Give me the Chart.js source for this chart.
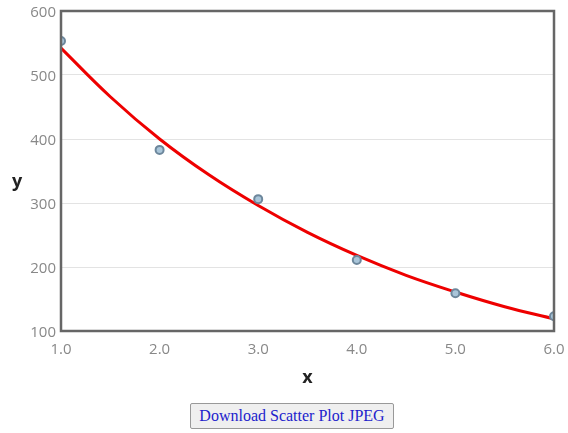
<!DOCTYPE html>
<html>
<head>
<meta charset="utf-8">
<script src="https://cdn.jsdelivr.net/npm/chart.js@4/dist/chart.umd.min.js"></script>
<style>
  html, body { margin: 0; padding: 0; background: #fff; }
  #wrap { position: relative; width: 568px; height: 395px; }
  #btnrow { text-align: center; margin-top: 8px; padding-left: 16px; }
  button { font-family: "Liberation Serif", "Times New Roman", serif; font-size: 16px; color: #2222cc;
    background: #efefef; border: 1px solid #999; border-radius: 2px; padding: 3px 8px; }
</style>
</head>
<body>
<div id="wrap"><canvas id="c"></canvas></div>
<div id="btnrow"><button>Download Scatter Plot JPEG</button></div>
<script>
// Observed data points
const xValues = [1, 2, 3, 4, 5, 6];
const yValues = [553, 383, 306, 211, 159, 123];
// Fitted curve
const fitX = [1, 1.5, 2, 2.5, 3, 3.5, 4, 4.5, 5, 5.5, 6];
const fitY = [542, 466, 400, 344, 296, 254, 218, 187, 161, 138, 119];
// Axis ticks
const yTicks = [100, 200, 300, 400, 500, 600];
const xTicks = [1, 2, 3, 4, 5, 6];
const xTitle = 'x';
const yTitle = 'y';

const borderPlugin = {
  id: 'frame',
  afterDatasetsDraw(chart) {
    const a = chart.chartArea, ctx = chart.ctx;
    ctx.save();
    ctx.strokeStyle = '#666';
    ctx.lineWidth = 2.5;
    ctx.strokeRect(a.left, a.top, a.right - a.left, a.bottom - a.top);
    // horizontal y-axis title
    ctx.fillStyle = '#222';
    ctx.font = 'bold 18px "Open Sans"';
    ctx.textAlign = 'center';
    ctx.textBaseline = 'middle';
    ctx.fillText(yTitle, 17, (a.top + a.bottom) / 2 + 11);
    ctx.restore();
  }
};

new Chart(document.getElementById('c'), {
  type: 'scatter',
  data: {
    datasets: [
      {
        type: 'line',
        data: fitX.map((x, i) => ({x, y: fitY[i]})),
        borderColor: '#ee0000',
        borderWidth: 3,
        pointRadius: 0,
        tension: 0.4,
        fill: false,
        order: 2
      },
      {
        data: xValues.map((x, i) => ({x, y: yValues[i]})),
        backgroundColor: '#a9c5d9',
        borderColor: '#6d879c',
        borderWidth: 2,
        pointRadius: 4,
        order: 1
      }
    ]
  },
  options: {
    responsive: true,
    maintainAspectRatio: false,
    animation: false,
    layout: { padding: { top: 11, right: 14, left: 0, bottom: 0 } },
    plugins: { legend: { display: false }, tooltip: { enabled: false } },
    scales: {
      x: {
        type: 'linear', min: 1, max: 6,
        afterBuildTicks: s => { s.ticks = xTicks.map(v => ({value: v})); },
        afterFit: s => { s.height = 64; s.paddingLeft = 0; s.paddingRight = 0; },
        grid: { display: false, drawTicks: false },
        border: { display: false },
        ticks: { padding: 10, color: '#888', font: { family: 'Open Sans', size: 15 },
          callback: v => v.toFixed(1), maxRotation: 0 },
        title: { display: true, text: xTitle, color: '#222',
          font: { family: 'Open Sans', size: 18, weight: 'bold' }, padding: { bottom: 6 } }
      },
      y: {
        type: 'linear', min: 100, max: 600,
        afterBuildTicks: s => { s.ticks = yTicks.map(v => ({value: v})); },
        afterFit: s => { s.width = 61; s.paddingTop = 0; s.paddingBottom = 0; },
        grid: { color: '#e3e3e3', lineWidth: 1, drawTicks: false },
        border: { display: false },
        ticks: { padding: 5, labelOffset: 2, color: '#888', font: { family: 'Open Sans', size: 15 } },
        title: { display: false }
      }
    }
  },
  plugins: [borderPlugin]
});
</script>
</body>
</html>
